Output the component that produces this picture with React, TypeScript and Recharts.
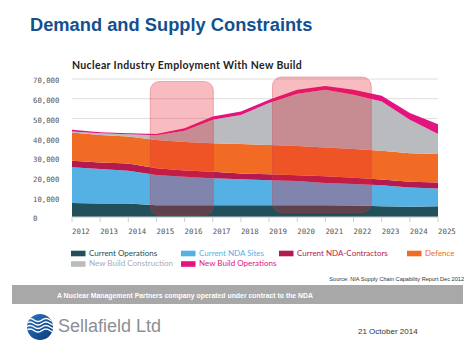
import { AreaChart, Area, XAxis, YAxis, CartesianGrid, ReferenceArea } from "recharts";

const years = [2012, 2013, 2014, 2015, 2016, 2017, 2018, 2019, 2020, 2021, 2022, 2023, 2024, 2025];

const currentOperations = [7100, 6900, 6800, 6000, 6000, 6000, 6000, 6000, 6000, 5900, 5800, 5500, 5200, 5500];
const currentNdaSites = [18100, 17400, 16600, 15300, 14400, 13600, 13100, 12700, 12300, 11400, 10900, 10600, 9800, 9000];
const ndaContractors = [3300, 3400, 3800, 3400, 3200, 3300, 3000, 3000, 2900, 3400, 3200, 2900, 2900, 3000];
const defence = [14300, 13900, 13600, 14400, 14400, 14500, 14900, 14800, 14800, 14600, 14600, 14600, 14400, 14400];
const newBuildConstruction = [600, 900, 1200, 2400, 5700, 11900, 14800, 21300, 26500, 29200, 27500, 25000, 17000, 10200];
const newBuildOperations = [800, 500, 500, 600, 1300, 1700, 1700, 1700, 2000, 2000, 2500, 2900, 3400, 4900];

const yTicks = [0, 10000, 20000, 30000, 40000, 50000, 60000, 70000];

// highlighted periods (pink boxes)
const boxX1 = [2014.78, 2019.12];
const boxX2 = [2017.02, 2022.63];
const boxY1 = [900, 2300];
const boxY2 = [68700, 71000];

const seriesKeys = ["ops", "nda", "contractors", "defence", "nbc", "nbo"];
const seriesNames = [
  "Current Operations",
  "Current NDA Sites",
  "Current NDA-Contractors",
  "Defence",
  "New Build Construction",
  "New Build Operations",
];
const seriesColors = ["#21505a", "#55b1e4", "#b41a4f", "#f26b24", "#b9bbbe", "#e4137e"];
const seriesValues = [currentOperations, currentNdaSites, ndaContractors, defence, newBuildConstruction, newBuildOperations];

const data = years.map((year, i) => {
  const row: Record<string, number> = { year };
  seriesKeys.forEach((k, s) => {
    row[k] = seriesValues[s][i];
  });
  return row;
});

const fmt = (v: number) => String(v).replace(/\B(?=(\d{3})+(?!\d))/g, ",");

const YTick = (props: any) => (
  <text x={33} y={props.y + 2.5} dominantBaseline="middle" fontSize={7.3} fill="#555" fontFamily="DejaVu Sans Mono, monospace">
    {fmt(props.payload.value)}
  </text>
);

const XTick = (props: any) => (
  <text x={props.x} y={231.5} dominantBaseline="middle" fontSize={7.4} fill="#555" fontFamily="DejaVu Sans Mono, monospace">
    {props.payload.value}
  </text>
);

const Box = (props: any) => (
  <rect
    x={props.x}
    y={props.y}
    width={props.width}
    height={props.height}
    rx={9}
    fill="rgb(232,34,46)"
    fillOpacity={0.3}
    stroke="rgb(205,60,72)"
    strokeOpacity={0.35}
  />
);

// legend layout: [column x, row y]
const legendPos = [
  [71, 253.5],
  [181, 253.5],
  [279, 253.5],
  [407, 253.5],
  [71, 264],
  [181, 264],
];

export default function App() {
  return (
    <div style={{ position: "absolute", left: 0, top: 0, width: 474, height: 355, background: "#fff", overflow: "hidden" }}>
      <svg width={474} height={355} style={{ position: "absolute", left: 0, top: 0 }}>
        <defs>
          <linearGradient id="logoGrad" x1="0" y1="0" x2="1" y2="1">
            <stop offset="0" stopColor="#2f74c0" />
            <stop offset="1" stopColor="#0b3a78" />
          </linearGradient>
          <clipPath id="logoClip">
            <circle cx={40} cy={327} r={13} />
          </clipPath>
        </defs>
        <text x={30} y={31} fontSize={18.3} fontWeight="bold" fill="#13508f" fontFamily="Liberation Sans, Arial, sans-serif">
          Demand and Supply Constraints
        </text>
        <text x={72} y={68.5} fontSize={10.5} fontWeight="bold" fill="#222" fontFamily="Lato, sans-serif" letterSpacing={0.35}>
          Nuclear Industry Employment With New Build
        </text>

        {seriesNames.map((name, i) => (
          <g key={name}>
            <rect x={legendPos[i][0]} y={legendPos[i][1] - 2.8} width={14.5} height={5.6} fill={seriesColors[i]} />
            <text
              x={legendPos[i][0] + 18}
              y={legendPos[i][1]}
              dominantBaseline="middle"
              fontSize={8}
              fill={seriesColors[i] === "#b9bbbe" ? "#a9abae" : seriesColors[i]}
              fontFamily="Lato, sans-serif"
            >
              {name}
            </text>
          </g>
        ))}

        <text x={464} y={281} textAnchor="end" fontSize={5.6} fill="#333" fontFamily="Liberation Sans, Arial, sans-serif">
          Source: NIA Supply Chain Capability Report Dec 2012
        </text>

        <rect x={12} y={285} width={451} height={19} fill="#a8a8a8" />
        <text
          x={57}
          y={298}
          fontSize={8}
          fontWeight="bold"
          fill="#fff"
          fontFamily="Liberation Sans, Arial, sans-serif"
          textLength={256}
          lengthAdjust="spacingAndGlyphs"
        >
          A Nuclear Management Partners company operated under contract to the NDA
        </text>

        <circle cx={40} cy={327} r={13} fill="url(#logoGrad)" />
        <g clipPath="url(#logoClip)" stroke="#fff" strokeWidth={1.5} fill="none">
          <path d="M26,320 q4,-3 8,0 t8,0 t8,0 t8,0" />
          <path d="M26,323.5 q4,-3 8,0 t8,0 t8,0 t8,0" />
          <path d="M26,327 q4,-3 8,0 t8,0 t8,0 t8,0" />
          <path d="M26,330.5 q4,-3 8,0 t8,0 t8,0 t8,0" />
        </g>
        <text x={58} y={331.7} fontSize={18} fill="#8c8f93" fontFamily="Liberation Sans, Arial, sans-serif">
          Sellafield Ltd
        </text>
        <text x={358} y={333.5} fontSize={8} fill="#333" fontFamily="Liberation Sans, Arial, sans-serif">
          21 October 2014
        </text>
      </svg>

      <div style={{ position: "absolute", left: 0, top: 0 }}>
        <AreaChart width={474} height={245} data={data} margin={{ top: 79, right: 36, bottom: 8, left: 33 }}>
          <CartesianGrid vertical={false} stroke="#dedede" />
          <XAxis
            dataKey="year"
            type="number"
            domain={[2012, 2025]}
            ticks={years}
            height={20}
            stroke="#cfcfcf"
            tickSize={5}
            tick={<XTick />}
            interval={0}
          />
          <YAxis
            domain={[0, 70000]}
            ticks={yTicks}
            width={39}
            axisLine={false}
            tickLine={false}
            tick={<YTick />}
            interval={0}
          />
          {seriesKeys.map((k, i) => (
            <Area
              key={k}
              dataKey={k}
              name={seriesNames[i]}
              stackId="1"
              type="linear"
              stroke="none"
              fill={seriesColors[i]}
              fillOpacity={1}
              dot={false}
              activeDot={false}
              isAnimationActive={false}
            />
          ))}
        </AreaChart>
      </div>

      {/* overlay chart so the highlight boxes sit above the areas */}
      <div style={{ position: "absolute", left: 0, top: 0, pointerEvents: "none" }}>
        <AreaChart width={474} height={245} data={data} margin={{ top: 79, right: 36, bottom: 8, left: 33 }}>
          <XAxis
            dataKey="year"
            type="number"
            domain={[2012, 2025]}
            ticks={years}
            height={20}
            axisLine={false}
            tickLine={false}
            tick={false}
          />
          <YAxis domain={[0, 70000]} ticks={yTicks} width={39} axisLine={false} tickLine={false} tick={false} />
          <Area dataKey="ops" stroke="none" fill="none" dot={false} activeDot={false} isAnimationActive={false} />
          {boxX1.map((x1, i) => (
            <ReferenceArea
              key={i}
              x1={x1}
              x2={boxX2[i]}
              y1={boxY1[i]}
              y2={boxY2[i]}
              ifOverflow="visible"
              shape={<Box />}
            />
          ))}
        </AreaChart>
      </div>
    </div>
  );
}
